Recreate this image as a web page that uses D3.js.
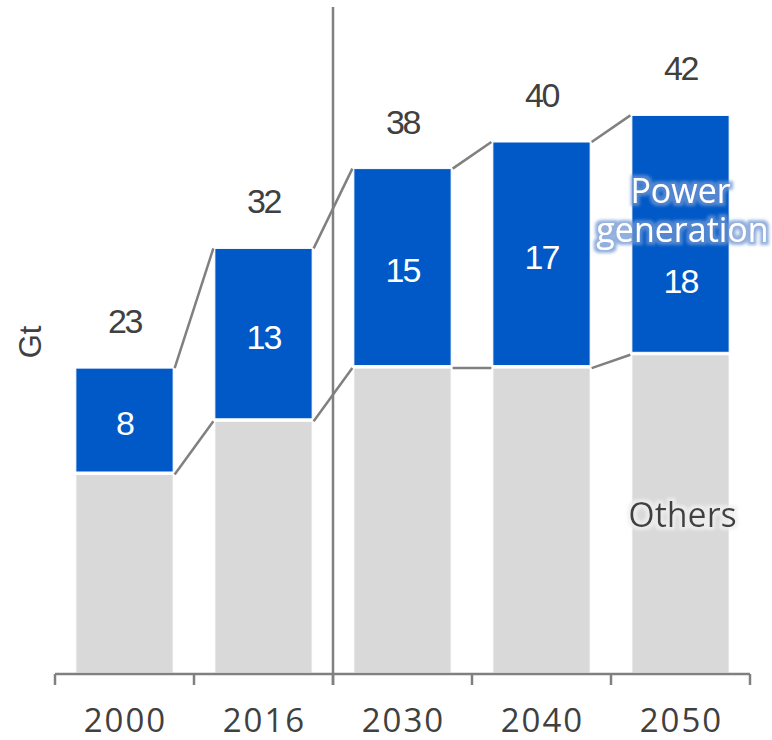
<!DOCTYPE html>
<html>
<head>
<meta charset="utf-8">
<script src="https://cdn.jsdelivr.net/npm/d3@7"></script>
<style>
  html, body { margin: 0; padding: 0; background: #fff; }
  svg { display: block; }
</style>
</head>
<body>
<svg id="chart" width="772" height="740"></svg>
<script>
// CO2 emissions by sector (Gt)
const years = ["2000", "2016", "2030", "2040", "2050"];
const powerGeneration = [8, 13, 15, 17, 18];
const others = [15, 19, 23, 23, 24];
const totals = [23, 32, 38, 40, 42];
const yDomain = [0, 50];

const svg = d3.select("#chart");
const defs = svg.append("defs");

// soft glow drawn behind a label, then the label itself on top
function glowFilter(id, color, opacity, radius) {
  const f = defs.append("filter").attr("id", id)
    .attr("x", "-20%").attr("y", "-50%").attr("width", "140%").attr("height", "200%");
  f.append("feMorphology").attr("in", "SourceAlpha").attr("operator", "dilate")
    .attr("radius", radius).attr("result", "dil");
  f.append("feGaussianBlur").attr("in", "dil").attr("stdDeviation", 1.8).attr("result", "blur");
  f.append("feFlood").attr("flood-color", color).attr("flood-opacity", opacity);
  f.append("feComposite").attr("in2", "blur").attr("operator", "in").attr("result", "glow");
  const m = f.append("feMerge");
  m.append("feMergeNode").attr("in", "glow");
  m.append("feMergeNode").attr("in", "SourceGraphic");
}
glowFilter("haloBlue", "rgb(110,150,210)", 0.75, 3);
glowFilter("haloGrey", "rgb(240,240,240)", 0.8, 2.5);

const x = d3.scaleBand().domain(years).range([55, 750])
  .paddingInner(0.3).paddingOuter(0.15);
const y = d3.scaleLinear().domain(yDomain).range([674, 9]);

const blue = "#0059C7";
const grey = "#D9D9D9";
const lineGrey = "#808080";
const textDark = "#404040";

const rows = years.map((yr, i) => ({
  year: yr, power: powerGeneration[i], others: others[i], total: totals[i]
}));

// connector lines between consecutive bars (segment tops)
const g = svg.append("g");
for (let i = 0; i < rows.length - 1; i++) {
  const a = rows[i], b = rows[i + 1];
  const x1 = x(a.year) + x.bandwidth() + 1.5;
  const x2 = x(b.year) - 1.5;
  [[a.others + a.power, b.others + b.power], [a.others, b.others]].forEach(([v1, v2]) => {
    g.append("line")
      .attr("x1", x1).attr("y1", y(v1))
      .attr("x2", x2).attr("y2", y(v2))
      .attr("stroke", lineGrey).attr("stroke-width", 2.5);
  });
}

// stacked bars
const bars = svg.append("g");
rows.forEach(d => {
  bars.append("rect")
    .attr("x", x(d.year)).attr("width", x.bandwidth())
    .attr("y", y(d.others)).attr("height", y(0) - y(d.others) - 1)
    .attr("fill", grey).attr("stroke", "#fff").attr("stroke-width", 1);
  bars.append("rect")
    .attr("x", x(d.year)).attr("width", x.bandwidth())
    .attr("y", y(d.others + d.power)).attr("height", y(d.others) - y(d.others + d.power) - 2.5)
    .attr("fill", blue).attr("stroke", "#fff").attr("stroke-width", 1);
});

// x axis with ticks at the category boundaries
const axisY = y(0);
const bounds = [x.range()[0]].concat(years.map(yr => x(yr) + x.bandwidth() + x.step() * x.paddingInner() / 2));
bounds[bounds.length - 1] = x.range()[1];
svg.append("line")
  .attr("x1", x.range()[0]).attr("x2", x.range()[1])
  .attr("y1", axisY).attr("y2", axisY)
  .attr("stroke", lineGrey).attr("stroke-width", 2.5);
bounds.forEach(bx => {
  svg.append("line").attr("x1", bx).attr("x2", bx)
    .attr("y1", axisY).attr("y2", axisY + 11)
    .attr("stroke", lineGrey).attr("stroke-width", 2.5);
});
svg.append("g").selectAll("text").data(years).join("text")
  .attr("x", d => x(d) + x.bandwidth() / 2 + 1)
  .attr("y", 732)
  .attr("text-anchor", "middle")
  .attr("font-family", "'Open Sans', 'Noto Sans', sans-serif")
  .attr("font-size", 33)
  .attr("letter-spacing", 2)
  .attr("fill", textDark)
  .text(d => d);

// separator between historical and projected years
const sepX = bounds[2];
svg.append("line").attr("x1", sepX).attr("x2", sepX)
  .attr("y1", 7).attr("y2", 685)
  .attr("stroke", lineGrey).attr("stroke-width", 2.5);

// totals above bars
svg.append("g").selectAll("text").data(rows).join("text")
  .attr("x", d => x(d.year) + x.bandwidth() / 2)
  .attr("y", d => y(d.total) - 35)
  .attr("text-anchor", "middle")
  .attr("font-family", "'Liberation Sans', Arial, sans-serif")
  .attr("font-size", 34)
  .attr("letter-spacing", -2.5)
  .attr("fill", textDark)
  .text(d => d.total);

// power generation values inside the blue segments
const labelShift = [0, 0, 0, 0, 44];
svg.append("g").selectAll("text").data(rows).join("text")
  .attr("x", d => x(d.year) + x.bandwidth() / 2)
  .attr("y", (d, i) => (y(d.others) + y(d.others + d.power)) / 2 + 14 + labelShift[i])
  .attr("text-anchor", "middle")
  .attr("font-family", "'Liberation Sans', Arial, sans-serif")
  .attr("font-size", 34)
  .attr("letter-spacing", -2)
  .attr("fill", "#fff")
  .text(d => d.power);

// series labels on the last bar
const lastX = x(years[4]) + x.bandwidth() / 2;
const seriesFont = "'Open Sans', 'Noto Sans', sans-serif";
function seriesLabel(txt, tx, ty, filterId, fill) {
  svg.append("text").attr("x", tx).attr("y", ty)
    .attr("text-anchor", "middle").attr("font-family", seriesFont).attr("font-size", 34)
    .attr("fill", fill).attr("filter", `url(#${filterId})`)
    .text(txt);
}
seriesLabel("Power", lastX, 203, "haloBlue", "#fff");
seriesLabel("generation", lastX + 2, 242, "haloBlue", "#fff");
seriesLabel("Others", lastX + 2, 527, "haloGrey", textDark);

// y axis title
svg.append("text")
  .attr("transform", "translate(41,342) rotate(-90)")
  .attr("text-anchor", "middle")
  .attr("font-family", "'Liberation Sans', Arial, sans-serif")
  .attr("font-size", 31)
  .attr("fill", textDark)
  .text("Gt");
</script>
</body>
</html>
